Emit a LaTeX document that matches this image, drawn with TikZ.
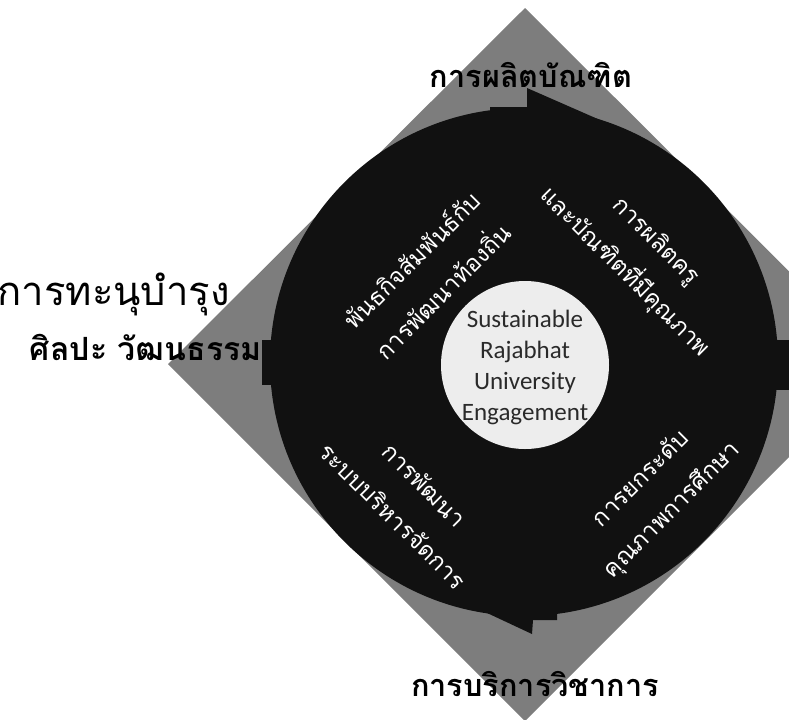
\documentclass[tikz,border=0pt]{standalone}
\usepackage{fontspec}
\newfontfamily\thaifont[Script=Thai]{Loma}
\newfontfamily\latinfont{Carlito}
\definecolor{diamondgray}{HTML}{7D7D7D}
\definecolor{ringblack}{HTML}{111111}
\definecolor{hubwhite}{HTML}{EDEDED}
\definecolor{hubtext}{HTML}{2A2A2A}
\tikzset{
  quadtext/.style={text=white, align=center, inner sep=0pt,
    font=\thaifont\fontsize{17.8pt}{33pt}\selectfont},
  biglabel/.style={text=black, inner sep=0pt,
    font=\thaifont\bfseries\fontsize{23pt}{28pt}\selectfont},
  thinlabel/.style={text=black, inner sep=0pt,
    font=\thaifont\fontsize{30pt}{34pt}\selectfont},
  hubtextstyle/.style={text=hubtext, align=center, inner sep=0pt,
    font=\latinfont\fontsize{18.75pt}{23.25pt}\selectfont},
}
\begin{document}
\begin{tikzpicture}[x=0.75pt,y=-0.75pt]
\useasboundingbox (0,0) rectangle (789,719);
\clip (0,0) rectangle (789,719);
% diamond
\fill[diamondgray] (525,8) -- (882,364) -- (525,721) -- (168,364) -- cycle;
% ring with arrow notches
\fill[ringblack] (524,362) circle[radius=254];
\fill[ringblack] (490,135) -- (490,107) -- (527,107) -- (527,88) -- (616,127) -- (616,140) -- cycle;
\fill[ringblack] (485,600) -- (485,612) -- (532,634) -- (533,620) -- (557,620) -- (557,600) -- cycle;
\fill[ringblack] (290,340) -- (262,340) -- (262,385) -- (290,385) -- cycle;
\fill[ringblack] (760,340) -- (795,340) -- (795,390) -- (760,390) -- cycle;
% hub
\fill[hubwhite] (525,365) circle[radius=84];
\node[hubtextstyle] (hub) at (525,367) {Sustainable\\Rajabhat\\University\\Engagement};
% quadrant texts
\node[quadtext, rotate=45] (tl) at (427,275) {พันธกิจสัมพันธ์กับ\\การพัฒนาท้องถิ่น};
\node[quadtext, rotate=-45] (tr) at (640,257) {การผลิตครู\\และบัณฑิตที่มีคุณภาพ};
\node[quadtext, rotate=-45] (bl) at (409,500) {การพัฒนา\\ระบบบริหารจัดการ};
\node[quadtext, rotate=45] (br) at (657,495) {การยกระดับ\\คุณภาพการศึกษา};
% outer labels
\node[biglabel] (top) at (531,75) {การผลิตบัณฑิต};
\node[biglabel] (bottom) at (535,684) {การบริการวิชาการ};
\node[thinlabel, anchor=east] (left1) at (230,294) {การทะนุบำรุง};
\node[biglabel, anchor=east, font=\thaifont\bfseries\fontsize{24pt}{28pt}\selectfont] (left2) at (262,347) {ศิลปะ วัฒนธรรม};
\end{tikzpicture}
\end{document}
